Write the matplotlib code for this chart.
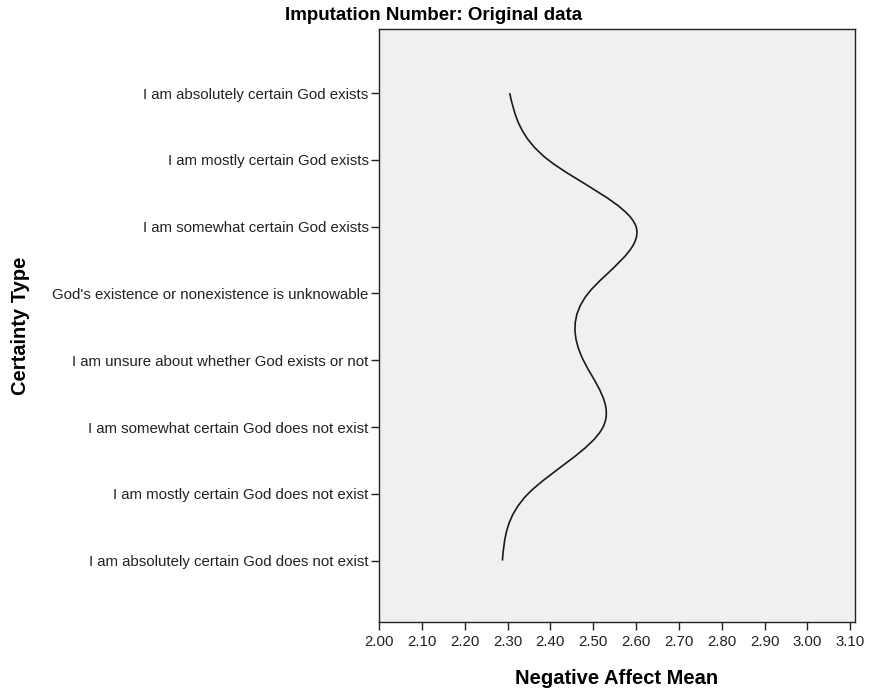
import numpy as np
import matplotlib
matplotlib.use("Agg")
import matplotlib.pyplot as plt
from matplotlib.path import Path
from matplotlib.patches import PathPatch

plt.rcParams["font.family"] = ["Liberation Sans", "DejaVu Sans"]

# ------------------------------------------------------------
# data
# ------------------------------------------------------------
categories = [
    "I am absolutely certain God exists",
    "I am mostly certain God exists",
    "I am somewhat certain God exists",
    "God's existence or nonexistence is unknowable",
    "I am unsure about whether God exists or not",
    "I am somewhat certain God does not exist",
    "I am mostly certain God does not exist",
    "I am absolutely certain God does not exist",
]
neg_affect_mean = [2.305, 2.395, 2.600, 2.488, 2.477, 2.523, 2.348, 2.288]
x_ticks = [2.00, 2.10, 2.20, 2.30, 2.40, 2.50, 2.60, 2.70, 2.80, 2.90, 3.00, 3.10]


def spline_path(xv, yv):
    """Natural cubic spline x(y) through the points, as a Bezier path."""
    xv = np.asarray(xv, float)
    n = len(xv)
    # second derivatives (uniform spacing h=1), natural ends
    A = np.zeros((n, n))
    b = np.zeros(n)
    A[0, 0] = A[-1, -1] = 1.0
    for i in range(1, n - 1):
        A[i, i - 1], A[i, i], A[i, i + 1] = 1.0, 4.0, 1.0
        b[i] = 6.0 * (xv[i + 1] - 2 * xv[i] + xv[i - 1])
    M = np.linalg.solve(A, b)
    m = np.zeros(n)
    for i in range(n - 1):
        m[i] = (xv[i + 1] - xv[i]) - (2 * M[i] + M[i + 1]) / 6.0
    m[-1] = (xv[-1] - xv[-2]) + (M[-2] + 2 * M[-1]) / 6.0

    verts = [(xv[0], yv[0])]
    codes = [Path.MOVETO]
    for i in range(n - 1):
        dy = yv[i + 1] - yv[i]
        verts += [(xv[i] + m[i] * dy / 3, yv[i] + dy / 3),
                  (xv[i + 1] - m[i + 1] * dy / 3, yv[i] + 2 * dy / 3),
                  (xv[i + 1], yv[i + 1])]
        codes += [Path.CURVE4] * 3
    return Path(verts, codes)


fig = plt.figure(figsize=(8.69, 6.94), dpi=100)
ax = fig.add_axes([379 / 869, 1 - 622 / 694, 476 / 869, 593 / 694])
ax.set_facecolor("#f0f0f0")

ypos = np.arange(len(categories))
path = spline_path(neg_affect_mean, ypos)
ax.add_patch(PathPatch(path, facecolor="none", edgecolor="#1a1a1a", lw=1.2))

ax.set_xlim(2.0, 3.111)
ax.set_ylim(7.92, -0.96)
ax.set_xticks(x_ticks)
ax.set_xticklabels([f"{v:.2f}" for v in x_ticks], fontsize=10.8)
ax.set_yticks(ypos)
ax.set_yticklabels(categories, fontsize=10.8)
ax.tick_params(axis="both", direction="out", length=6, width=1.0,
               color="#222222", labelcolor="#222222")
ax.tick_params(axis="y", pad=1.5)
ax.tick_params(axis="x", pad=3)
for s in ax.spines.values():
    s.set_color("#222222")
    s.set_linewidth(1.0)

fig.text(434 / 869, 1 - 16 / 694, "Imputation Number: Original data",
         ha="center", va="center", fontsize=13.5, fontweight="bold")
fig.text(617 / 869, 1 - 678 / 694, "Negative Affect Mean",
         ha="center", va="center", fontsize=14.5, fontweight="bold")
fig.text(21 / 869, 1 - 326 / 694, "Certainty Type", rotation=90,
         ha="center", va="center", fontsize=14.5, fontweight="bold")

fig.savefig("out.png", dpi=100, facecolor="white")
